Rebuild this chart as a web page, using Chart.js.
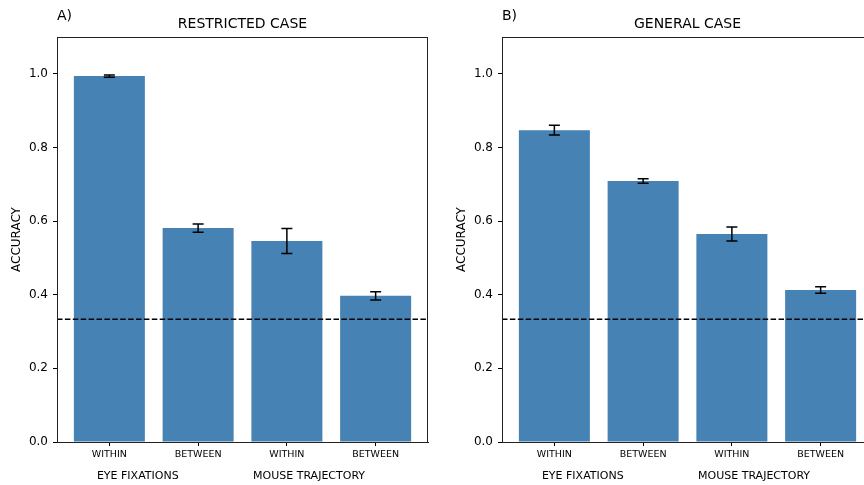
<!DOCTYPE html>
<html>
<head>
<meta charset="utf-8">
<script src="https://cdn.jsdelivr.net/npm/chart.js@4/dist/chart.umd.min.js"></script>
<style>
html,body{margin:0;padding:0;background:#fff;overflow:hidden;width:864px;height:485px}
.pn{position:absolute;top:0}
</style>
</head>
<body>
<div class="pn" style="left:0"><canvas id="ca" width="432" height="485"></canvas></div>
<div class="pn" style="left:445px"><canvas id="cb" width="432" height="485"></canvas></div>

<script>
// data
var categories = ['WITHIN', 'BETWEEN', 'WITHIN', 'BETWEEN'];
var groupLabels = ['EYE FIXATIONS', 'MOUSE TRAJECTORY'];
var groupCenters = [0.32, 2.25];
var yTicks = [0, 0.2, 0.4, 0.6, 0.8, 1.0];
var chanceLevel = 1 / 3;

var restrictedAcc = [0.994, 0.581, 0.546, 0.397];
var restrictedErr = [0.003, 0.011, 0.034, 0.011];
var generalAcc = [0.847, 0.709, 0.565, 0.413];
var generalErr = [0.013, 0.006, 0.019, 0.009];

var FONT = '"DejaVu Sans", sans-serif';

var extras = {
  id: 'extras',
  afterDatasetsDraw: function(chart) {
    var o = chart.options.plugins.extras;
    var ctx = chart.ctx, xs = chart.scales.x, ys = chart.scales.y, a = chart.chartArea;
    ctx.save();
    // error bars
    ctx.strokeStyle = '#000';
    ctx.lineWidth = 1.5;
    o.vals.forEach(function(v, i) {
      var x = xs.getPixelForValue(i);
      var y1 = ys.getPixelForValue(v - o.errs[i]);
      var y2 = ys.getPixelForValue(v + o.errs[i]);
      ctx.beginPath();
      ctx.moveTo(x, y1); ctx.lineTo(x, y2);
      ctx.moveTo(x - 5.5, y1); ctx.lineTo(x + 5.5, y1);
      ctx.moveTo(x - 5.5, y2); ctx.lineTo(x + 5.5, y2);
      ctx.stroke();
    });
    // chance line
    var yc = ys.getPixelForValue(chanceLevel);
    ctx.setLineDash([5.5, 2.4]);
    ctx.beginPath();
    ctx.moveTo(a.left, yc); ctx.lineTo(a.right, yc);
    ctx.stroke();
    ctx.setLineDash([]);
    // frame
    ctx.strokeStyle = '#222';
    ctx.lineWidth = 1;
    ctx.strokeRect(a.left + 0.5, a.top + 0.5, a.right - a.left - 1, a.bottom - a.top);
    ctx.restore();
  },
  afterDraw: function(chart) {
    var o = chart.options.plugins.extras;
    var ctx = chart.ctx, xs = chart.scales.x, a = chart.chartArea;
    ctx.save();
    ctx.fillStyle = '#000';
    ctx.textBaseline = 'middle';
    ctx.font = '14px ' + FONT;
    ctx.textAlign = 'left';
    ctx.fillText(o.tag, a.left, 16);
    ctx.textAlign = 'center';
    ctx.fillText(o.title, (a.left + a.right) / 2, 24);
    ctx.font = '11px ' + FONT;
    groupLabels.forEach(function(g, i) {
      ctx.fillText(g, xs.getPixelForValue(groupCenters[i]), 476);
    });
    ctx.font = '12px ' + FONT;
    ctx.translate(17, (a.top + a.bottom) / 2);
    ctx.rotate(-Math.PI / 2);
    ctx.fillText('ACCURACY', 0, 0);
    ctx.restore();
  }
};

function makeChart(id, tag, title, vals, errs) {
  return new Chart(document.getElementById(id), {
    type: 'bar',
    data: {
      datasets: [{
        data: vals.map(function(v, i) { return {x: i, y: v}; }),
        backgroundColor: '#4682b4',
        borderWidth: 0,
        barPercentage: 0.8,
        categoryPercentage: 1
      }]
    },
    options: {
      responsive: false,
      animation: false,
      devicePixelRatio: 1,
      layout: {padding: {top: 37, right: 4, left: 0, bottom: 0}},
      plugins: {
        legend: {display: false},
        tooltip: {enabled: false},
        extras: {tag: tag, title: title, vals: vals, errs: errs}
      },
      scales: {
        x: {
          type: 'linear',
          min: -0.59, max: 3.59,
          offset: false,
          afterBuildTicks: function(s) { s.ticks = categories.map(function(c, i) { return {value: i}; }); },
          afterFit: function(s) { s.height = 43; },
          ticks: {
            color: '#000', font: {family: FONT, size: 9.5}, padding: 3, maxRotation: 0, autoSkip: false,
            callback: function(v) { return categories[v]; }
          },
          grid: {drawOnChartArea: false, offset: false, color: '#000', tickLength: 4},
          border: {color: '#222'}
        },
        y: {
          min: 0, max: 1.1,
          afterBuildTicks: function(s) { s.ticks = yTicks.map(function(t) { return {value: t}; }); },
          afterFit: function(s) { s.width = 57; },
          ticks: {
            color: '#000', font: {family: FONT, size: 12}, padding: 5,
            callback: function(v) { return v.toFixed(1); }
          },
          grid: {drawOnChartArea: false, color: '#000', tickLength: 4},
          border: {color: '#222'}
        }
      }
    },
    plugins: [extras]
  });
}

makeChart('ca', 'A)', 'RESTRICTED CASE', restrictedAcc, restrictedErr);
makeChart('cb', 'B)', 'GENERAL CASE', generalAcc, generalErr);
</script>
</body>
</html>
